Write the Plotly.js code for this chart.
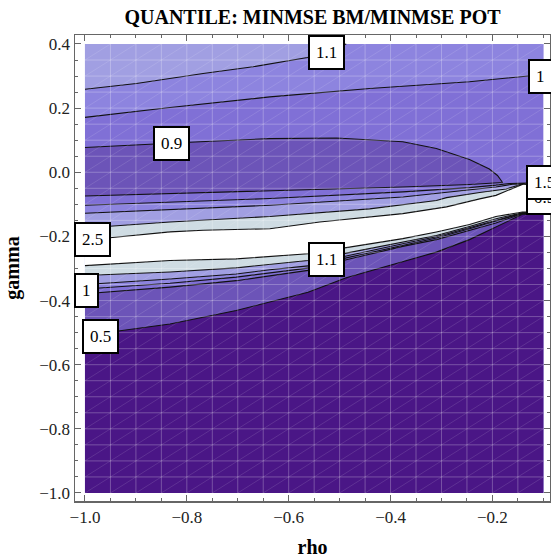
<!DOCTYPE html>
<html>
<head>
<meta charset="utf-8">
<script src="https://cdn.plot.ly/plotly-3.0.1.min.js"></script>
<style>
html,body{margin:0;padding:0;background:#fff;}
#chart{width:551px;height:558px;}
</style>
</head>
<body>
<div id="chart"></div>
<script>
// ---- data ----
const rhoRange = [-1.0, -0.1];
const gammaRange = [-1.0, 0.4];

// upper-left contours
const top11X = [-1.0, -0.899, -0.768, -0.670, -0.563, -0.525, -0.487];
const top11Y = [0.259, 0.277, 0.308, 0.329, 0.358, 0.380, 0.400];
const top10X = [-1.0, -0.833, -0.637, -0.441, -0.245, -0.134, -0.1];
const top10Y = [0.171, 0.202, 0.235, 0.261, 0.282, 0.300, 0.305];
const arc09X = [-1.0, -0.869, -0.774, -0.637, -0.506, -0.376, -0.310, -0.245, -0.206, -0.190, -0.180];
const arc09Y = [0.077, 0.088, 0.095, 0.105, 0.107, 0.095, 0.074, 0.040, 0.010, -0.010, -0.032];

// upper side of the ridge
const up09X = [-1.0, -0.637, -0.376, -0.245, -0.180];
const up09Y = [-0.074, -0.059, -0.046, -0.038, -0.032];
const up10X = [-1.0, -0.637, -0.376, -0.245, -0.193, -0.167, -0.114, -0.1];
const up10Y = [-0.103, -0.082, -0.061, -0.048, -0.040, -0.035, -0.033, -0.033];
const up11X = [-1.0, -0.637, -0.376, -0.278, -0.193, -0.160, -0.114, -0.1];
const up11Y = [-0.128, -0.103, -0.077, -0.061, -0.046, -0.037, -0.035, -0.035];
const up15X = [-1.0, -0.833, -0.637, -0.441, -0.310, -0.290, -0.225, -0.173, -0.154, -0.140, -0.1];
const up15Y = [-0.174, -0.155, -0.138, -0.114, -0.088, -0.079, -0.063, -0.052, -0.043, -0.036, -0.036];
const up25X = [-1.0, -0.951, -0.833, -0.768, -0.637, -0.539, -0.376, -0.290, -0.225, -0.193, -0.140, -0.1];
const up25Y = [-0.213, -0.204, -0.186, -0.181, -0.176, -0.155, -0.129, -0.108, -0.083, -0.072, -0.037, -0.037];

// lower side of the ridge (shared rho positions)
const loX   = [-1.0, -0.833, -0.703, -0.637, -0.562, -0.487, -0.376, -0.310, -0.245, -0.193, -0.141, -0.1];
const lo25Y = [-0.291, -0.275, -0.270, -0.263, -0.254, -0.235, -0.207, -0.186, -0.163, -0.138, -0.124, -0.124];
const lo15Y = [-0.322, -0.311, -0.298, -0.288, -0.275, -0.252, -0.218, -0.197, -0.169, -0.145, -0.126, -0.126];
const lo11Y = [-0.350, -0.333, -0.317, -0.304, -0.292, -0.261, -0.223, -0.201, -0.173, -0.150, -0.127, -0.127];
const lo10Y = [-0.364, -0.346, -0.327, -0.314, -0.299, -0.267, -0.227, -0.205, -0.176, -0.153, -0.128, -0.128];
const lo09Y = [-0.379, -0.358, -0.338, -0.322, -0.306, -0.273, -0.231, -0.210, -0.181, -0.158, -0.129, -0.129];
const lo05Y = [-0.509, -0.473, -0.431, -0.405, -0.374, -0.329, -0.280, -0.249, -0.210, -0.171, -0.131, -0.131];

// contour labels
const labelText = ['1.1', '1', '0.9', '0.5', '1.5', '2.5', '1.1', '1', '0.5'];
const labelRho  = [-0.525, -0.106, -0.831, -0.098, -0.098, -0.986, -0.525, -0.997, -0.969];
const labelGam  = [0.373, 0.300, 0.089, -0.080, -0.031, -0.209, -0.273, -0.369, -0.5125];

// ---- styles ----
const col = {A:'#a19fe2', B:'#8d84df', C:'#8070d6', D:'#6c54b8', E:'#4a1686', G:'#cfdce3', W:'#ffffff'};
const serif = 'Liberation Serif, Times New Roman, serif';

function rev(a){ return a.slice().reverse(); }
function fillTrace(xs, ys, color){
  return {x: xs, y: ys, type:'scatter', mode:'lines', fill:'toself', fillcolor: color,
          line:{width:0, color: color}, hoverinfo:'skip', showlegend:false};
}
function lineTrace(xs, ys){
  return {x: xs, y: ys, type:'scatter', mode:'lines', line:{width:1.1, color:'#111'},
          hoverinfo:'skip', showlegend:false};
}
const x0 = rhoRange[0], x1 = rhoRange[1], y0 = gammaRange[0], y1 = gammaRange[1];

const traces = [
  fillTrace([x0, x1, x1, x0], [y0, y0, y1, y1], col.C),
  fillTrace(top10X.concat([x1, x0]), top10Y.concat([y1, y1]), col.B),
  fillTrace(top11X.concat([x0]), top11Y.concat([y1]), col.A),
  fillTrace(arc09X.concat(rev(up09X)), arc09Y.concat(rev(up09Y)), col.D),
  fillTrace(loX.concat([x1, x0]), lo09Y.concat([y0, y0]), col.D),
  fillTrace(loX.concat([x1, x0]), lo05Y.concat([y0, y0]), col.E),
  fillTrace(up10X.concat(rev(loX)), up10Y.concat(rev(lo10Y)), col.B),
  fillTrace(up11X.concat(rev(loX)), up11Y.concat(rev(lo11Y)), col.A),
  fillTrace(up15X.concat(rev(loX)), up15Y.concat(rev(lo15Y)), col.G),
  fillTrace(up25X.concat(rev(loX)), up25Y.concat(rev(lo25Y)), col.W),
  lineTrace(top11X, top11Y), lineTrace(top10X, top10Y), lineTrace(arc09X, arc09Y),
  lineTrace(up09X, up09Y), lineTrace(up10X, up10Y), lineTrace(up11X, up11Y),
  lineTrace(up15X, up15Y), lineTrace(up25X, up25Y),
  lineTrace(loX, lo25Y), lineTrace(loX, lo15Y), lineTrace(loX, lo11Y),
  lineTrace(loX, lo10Y), lineTrace(loX, lo09Y), lineTrace(loX, lo05Y)
];

// mesh overlay (grid + cell diagonals) above the fills
const shapes = [];
const step = 0.05;
const nx = Math.round((x1 - x0) / step), ny = Math.round((y1 - y0) / step);
for (let i = 1; i < nx; i++) {
  const xv = x0 + i * step;
  shapes.push({type:'line', xref:'x', yref:'y', x0:xv, x1:xv, y0:y0, y1:y1, layer:'above',
               line:{color:'rgba(255,255,255,0.26)', width:1}});
}
for (let j = 1; j < ny; j++) {
  const yv = y0 + j * step;
  shapes.push({type:'line', xref:'x', yref:'y', x0:x0, x1:x1, y0:yv, y1:yv, layer:'above',
               line:{color:'rgba(255,255,255,0.26)', width:1}});
}
for (let k = -nx + 1; k < ny; k++) {
  const c = k * step;
  let ax = x0, ay = y0 + c;
  if (ay < y0) { ax = x0 + (y0 - ay); ay = y0; }
  let bx = x1, by = y0 + (x1 - x0) + c;
  if (by > y1) { bx = x1 - (by - y1); by = y1; }
  if (bx <= ax) continue;
  shapes.push({type:'line', xref:'x', yref:'y', x0:ax, y0:ay, x1:bx, y1:by, layer:'above',
               line:{color:'rgba(255,255,255,0.15)', width:0.8}});
}

const annotations = labelText.map((t, i) => ({
  x: labelRho[i], y: labelGam[i], xref:'x', yref:'y', text: t, showarrow:false,
  font:{family: serif, size:17, color:'#000'}, bgcolor:'#fff', bordercolor:'#000',
  borderwidth:2, borderpad:6
}));

const axisCommon = {
  showline:true, linecolor:'#666', linewidth:1.5, mirror:'ticks',
  ticks:'inside', ticklen:6, tickwidth:1, tickcolor:'#666',
  showgrid:false, zeroline:false, tickformat:'.1f',
  tickfont:{family: serif, size:17, color:'#222'},
  minor:{dtick:0.05, ticks:'inside', ticklen:3, tickcolor:'#666', showgrid:false}
};

const layout = {
  width:551, height:558,
  margin:{l:75, r:1, t:35, b:57},
  paper_bgcolor:'#fff', plot_bgcolor:'#fff',
  title:{text:'<b>QUANTILE: MINMSE BM/MINMSE POT</b>', font:{family: serif, size:20, color:'#000'},
         x:0.5, xref:'paper', y:1 - 17/558, yref:'container', yanchor:'middle'},
  xaxis: Object.assign({}, axisCommon, {
    range:[-1.0196, -0.0869], tick0:-1.0, dtick:0.2,
    minor:Object.assign({}, axisCommon.minor, {tick0:-1.0}),
    title:{text:'<b>rho</b>', font:{family: serif, size:20, color:'#000'}, standoff:14}
  }),
  yaxis: Object.assign({}, axisCommon, {
    range:[-1.025, 0.428], tick0:-1.0, dtick:0.2,
    minor:Object.assign({}, axisCommon.minor, {tick0:-1.0}),
    title:{text:'<b>gamma</b>', font:{family: serif, size:20, color:'#000'}, standoff:14}
  }),
  shapes: shapes,
  annotations: annotations
};

Plotly.newPlot('chart', traces, layout, {displayModeBar:false, staticPlot:true});
</script>
</body>
</html>
